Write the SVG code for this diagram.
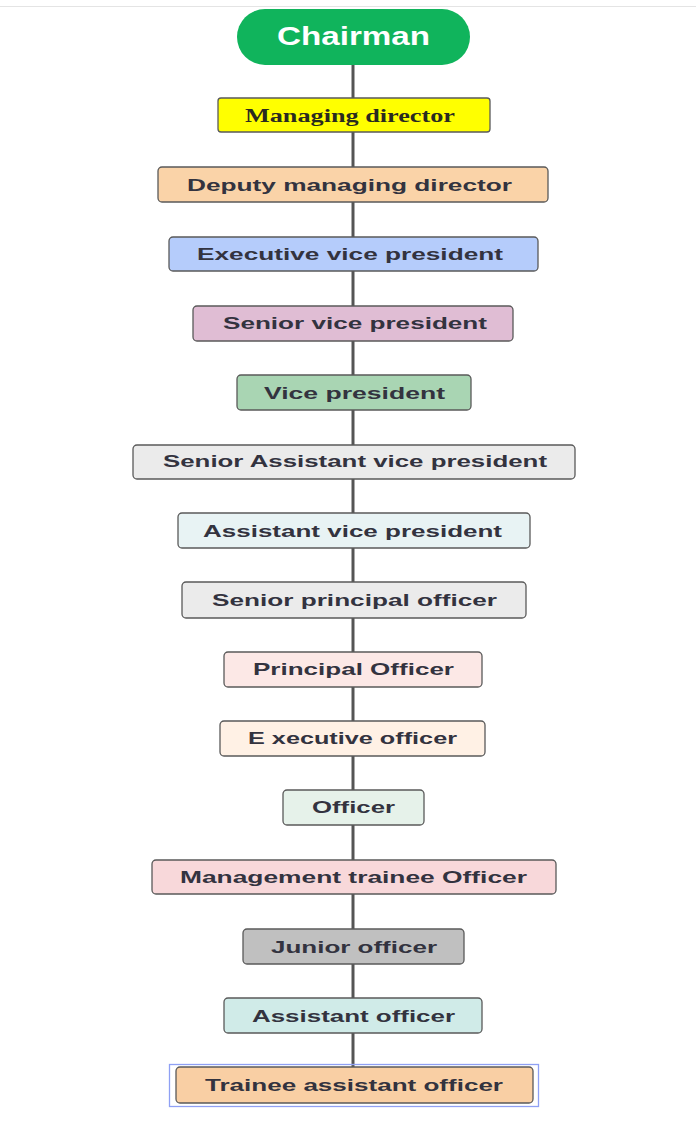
<svg xmlns="http://www.w3.org/2000/svg" width="696" height="1134" viewBox="0 0 696 1134">
<style>
.bx{stroke:#5a5a5a;stroke-width:1.3}
.t{font-family:"Liberation Sans",Arial,sans-serif;font-weight:bold;font-size:17px;fill:#33333f}
.ts{font-family:"Liberation Serif","Times New Roman",serif;font-weight:bold;font-size:19px;fill:#2a2a20}
.ln{stroke:#555;stroke-width:3}
</style>
<rect x="0" y="0" width="696" height="1134" fill="#fff"/>
<line x1="0" y1="6.5" x2="696" y2="6.5" stroke="#e4e4e4" stroke-width="1"/>
<g id="connectors">
<line class="ln" x1="353" y1="65" x2="353" y2="98"/>
<line class="ln" x1="353" y1="132" x2="353" y2="167"/>
<line class="ln" x1="353" y1="202" x2="353" y2="237"/>
<line class="ln" x1="353" y1="271" x2="353" y2="306"/>
<line class="ln" x1="353" y1="341" x2="353" y2="375"/>
<line class="ln" x1="353" y1="410" x2="353" y2="445"/>
<line class="ln" x1="353" y1="479" x2="353" y2="513"/>
<line class="ln" x1="353" y1="548" x2="353" y2="582"/>
<line class="ln" x1="353" y1="618" x2="353" y2="652"/>
<line class="ln" x1="353" y1="687" x2="353" y2="721"/>
<line class="ln" x1="353" y1="756" x2="353" y2="790"/>
<line class="ln" x1="353" y1="825" x2="353" y2="860"/>
<line class="ln" x1="353" y1="894" x2="353" y2="929"/>
<line class="ln" x1="353" y1="964" x2="353" y2="998"/>
<line class="ln" x1="353" y1="1033" x2="353" y2="1067"/>
</g>
<g id="chairman">
<rect x="237" y="9" width="233" height="56" rx="28" fill="#10b45c"/>
<text x="277" y="45" textLength="153" lengthAdjust="spacingAndGlyphs" font-family="Liberation Sans,Arial,sans-serif" font-weight="bold" font-size="25" fill="#fff">Chairman</text>
</g>
<g id="managing-director">
<rect class="bx" x="218" y="98" width="272" height="34" rx="3" fill="#ffff00"/>
<text class="ts" x="245" y="122" textLength="210" lengthAdjust="spacingAndGlyphs">Managing director</text>
</g>
<g id="deputy-managing-director">
<rect class="bx" x="158" y="167" width="390" height="35" rx="4" fill="#fad3a8"/>
<text class="t" x="187" y="191" textLength="325" lengthAdjust="spacingAndGlyphs">Deputy managing director</text>
</g>
<g id="executive-vice-president">
<rect class="bx" x="169" y="237" width="369" height="34" rx="4" fill="#b5ccfb"/>
<text class="t" x="197" y="260" textLength="306" lengthAdjust="spacingAndGlyphs">Executive vice president</text>
</g>
<g id="senior-vice-president">
<rect class="bx" x="193" y="306" width="320" height="35" rx="4" fill="#e0bdd4"/>
<text class="t" x="223" y="329" textLength="264" lengthAdjust="spacingAndGlyphs">Senior vice president</text>
</g>
<g id="vice-president">
<rect class="bx" x="237" y="375" width="234" height="35" rx="4" fill="#a9d5b3"/>
<text class="t" x="264" y="399" textLength="181" lengthAdjust="spacingAndGlyphs">Vice president</text>
</g>
<g id="senior-assistant-vice-president">
<rect class="bx" x="133" y="445" width="442" height="34" rx="4" fill="#ebebeb"/>
<text class="t" x="163" y="467" textLength="384" lengthAdjust="spacingAndGlyphs">Senior Assistant vice president</text>
</g>
<g id="assistant-vice-president">
<rect class="bx" x="178" y="513" width="352" height="35" rx="4" fill="#e8f3f4"/>
<text class="t" x="203" y="537" textLength="299" lengthAdjust="spacingAndGlyphs">Assistant vice president</text>
</g>
<g id="senior-principal-officer">
<rect class="bx" x="182" y="582" width="344" height="36" rx="4" fill="#ebebeb"/>
<text class="t" x="212" y="606" textLength="285" lengthAdjust="spacingAndGlyphs">Senior principal officer</text>
</g>
<g id="principal-officer">
<rect class="bx" x="224" y="652" width="258" height="35" rx="4" fill="#fce8e6"/>
<text class="t" x="253" y="675" textLength="201" lengthAdjust="spacingAndGlyphs">Principal Officer</text>
</g>
<g id="executive-officer">
<rect class="bx" x="220" y="721" width="265" height="35" rx="4" fill="#fff1e5"/>
<text class="t" x="248" y="744" textLength="209" lengthAdjust="spacingAndGlyphs">E xecutive officer</text>
</g>
<g id="officer">
<rect class="bx" x="283" y="790" width="141" height="35" rx="4" fill="#e6f2ea"/>
<text class="t" x="312" y="813" textLength="83" lengthAdjust="spacingAndGlyphs">Officer</text>
</g>
<g id="management-trainee-officer">
<rect class="bx" x="152" y="860" width="404" height="34" rx="4" fill="#f8d8da"/>
<text class="t" x="180" y="883" textLength="347" lengthAdjust="spacingAndGlyphs">Management trainee Officer</text>
</g>
<g id="junior-officer">
<rect class="bx" x="243" y="929" width="221" height="35" rx="4" fill="#c0c0c0"/>
<text class="t" x="271" y="953" textLength="166" lengthAdjust="spacingAndGlyphs">Junior officer</text>
</g>
<g id="assistant-officer">
<rect class="bx" x="224" y="998" width="258" height="35" rx="4" fill="#d0ebe8"/>
<text class="t" x="252" y="1022" textLength="203" lengthAdjust="spacingAndGlyphs">Assistant officer</text>
</g>
<g id="trainee-assistant-officer">
<rect x="169.5" y="1064.5" width="369" height="42" fill="none" stroke="#8fa0f4" stroke-width="1.3"/>
<rect class="bx" x="176" y="1067" width="357" height="36" rx="4" fill="#f9cfa4"/>
<text class="t" x="205" y="1091" textLength="298" lengthAdjust="spacingAndGlyphs">Trainee assistant officer</text>
</g>
</svg>
